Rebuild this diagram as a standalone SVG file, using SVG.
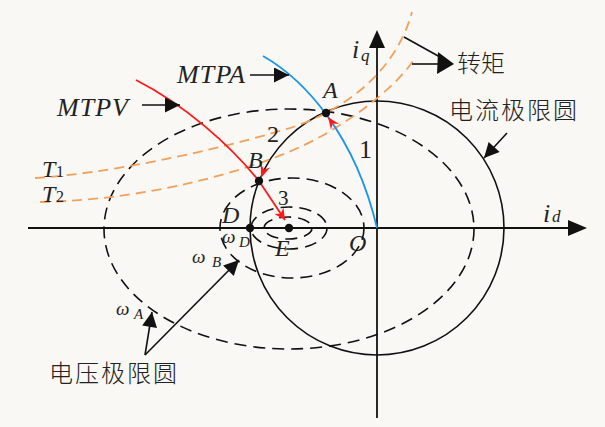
<svg xmlns="http://www.w3.org/2000/svg" width="605" height="427" viewBox="0 0 605 427">
<style>
.ax{stroke:#111;stroke-width:1.8;fill:none}
.sol{stroke:#111;stroke-width:1.6;fill:none}
.dsh{stroke:#111;stroke-width:1.6;fill:none;stroke-dasharray:12 7}
.org{stroke:#f2a05c;stroke-width:1.8;fill:none;stroke-dasharray:10 6}
.blue{stroke:#1e96e8;stroke-width:1.8;fill:none}
.red{stroke:#ff1a1a;stroke-width:1.8;fill:none}
.ptr{stroke:#111;stroke-width:1.6;fill:none}
.lab{font-family:"Liberation Serif",serif;font-style:italic;fill:#222}
.num{font-family:"Liberation Serif",serif;fill:#222}
.cjk{font-family:"Noto Sans CJK SC","Noto Sans",sans-serif;font-weight:300;fill:#222}
</style>
<defs>
<marker id="ahBig" viewBox="0 0 10 10" refX="10" refY="5" markerWidth="17" markerHeight="15" markerUnits="userSpaceOnUse" orient="auto"><path d="M0,0 L10,5 L0,10 z" fill="#111"/></marker>
<marker id="ahRed" viewBox="0 0 10 10" refX="10" refY="5" markerWidth="13" markerHeight="11" markerUnits="userSpaceOnUse" orient="auto"><path d="M0,0 L10,5 L0,10 L3,5 z" fill="#ff1a1a"/></marker>
</defs>
<rect width="605" height="427" fill="#f9f8f4"/>

<g id="axes">
<line class="ax" x1="28" y1="228" x2="572" y2="228"/>
<path d="M587,228 L568,220 L568,236 z" fill="#111"/>
<line class="ax" x1="377" y1="418" x2="377" y2="45"/>
<path d="M377,30 L369,48 L385,48 z" fill="#111"/>
<text class="lab" x="352" y="58" font-size="26">i</text>
<text class="lab" x="361" y="61" font-size="17">q</text>
<text class="lab" x="543" y="222" font-size="26">i</text>
<text class="lab" x="552" y="222" font-size="17">d</text>
<text class="lab" x="349" y="251" font-size="24">O</text>
</g>

<g id="voltage-ellipses">
<ellipse class="dsh" cx="289" cy="229" rx="185" ry="120"/>
<ellipse class="dsh" cx="292" cy="228" rx="72" ry="50"/>
<ellipse class="dsh" cx="289" cy="228" rx="38" ry="21" stroke-dasharray="10 6"/>
<ellipse class="dsh" cx="288" cy="228" rx="24" ry="11" stroke-dasharray="9 6"/>
</g>

<g id="current-circle">
<circle class="sol" cx="377" cy="228" r="127"/>
</g>

<g id="torque-curves">
<path class="org" d="M35,178 C100,174 200,155 290,128 C340,112 395,75 412,12"/>
<path class="org" d="M40,202 C150,200 250,170 300,147 C340,129 395,90 415,58"/>
<text class="lab" x="42" y="177" font-size="24">T</text>
<text class="num" x="56" y="177" font-size="16">1</text>
<text class="lab" x="42" y="202" font-size="24">T</text>
<text class="num" x="56" y="202" font-size="16">2</text>
</g>

<g id="mtpa">
<path class="blue" d="M263,56 C305,80 355,135 377,228"/>
<text class="lab" x="177" y="83" font-size="26" textLength="68" lengthAdjust="spacing">MTPA</text>
</g>

<g id="mtpv">
<path class="red" d="M136,80 C185,105 230,145 259,181 L285,220" marker-end="url(#ahRed)"/>
<text class="lab" x="57" y="116" font-size="26" textLength="71" lengthAdjust="spacing">MTPV</text>
</g>

<g id="connectors">
<line class="ptr" x1="250" y1="75" x2="289" y2="75" marker-end="url(#ahBig)"/>
<line class="ptr" x1="142" y1="105" x2="180" y2="105" marker-end="url(#ahBig)"/>
<line class="ptr" x1="507" y1="133" x2="484" y2="158" marker-end="url(#ahBig)"/>
<line class="ptr" x1="145" y1="355" x2="152" y2="312" marker-end="url(#ahBig)"/>
<line class="ptr" x1="145" y1="355" x2="239" y2="260" marker-end="url(#ahBig)"/>
<line class="ptr" x1="404" y1="37" x2="440" y2="57"/>
<line class="ptr" x1="412" y1="64" x2="440" y2="64"/>
<path d="M454,64 L438,52 L437,74 z" fill="#111"/>
<path d="M328,117 L339,123.9 L332.6,123.5 L331,129.7 z" fill="#ff1a1a"/>
<path d="M261,178 L270,167.6 L264,169.6 L260.8,164 z" fill="#ff1a1a"/>
</g>

<g id="point-A">
<circle cx="326" cy="113" r="4.2" fill="#111"/>
<text class="lab" x="323" y="98" font-size="24">A</text>
</g>
<g id="point-B">
<circle cx="259" cy="181" r="4.2" fill="#111"/>
<text class="lab" x="248" y="168" font-size="24">B</text>
</g>
<g id="point-D">
<circle cx="250" cy="228" r="4.2" fill="#111"/>
<text class="lab" x="222" y="223" font-size="24">D</text>
</g>
<g id="point-E">
<circle cx="289" cy="228" r="4.2" fill="#111"/>
<text class="lab" x="275" y="256" font-size="24">E</text>
</g>

<g id="path-labels">
<text class="num" x="359" y="158" font-size="26">1</text>
<text class="num" x="267" y="142" font-size="24">2</text>
<text class="num" x="278" y="205" font-size="21">3</text>
</g>

<g id="omega-labels">
<text class="lab" x="222" y="243" font-size="19">ω</text>
<text class="lab" x="239" y="247" font-size="15">D</text>
<text class="lab" x="192" y="263" font-size="19">ω</text>
<text class="lab" x="212" y="267" font-size="15">B</text>
<text class="lab" x="116" y="315" font-size="19">ω</text>
<text class="lab" x="134" y="319" font-size="15">A</text>
</g>

<g id="cjk-labels">
<text class="cjk" x="457" y="72" font-size="24">转矩</text>
<text class="cjk" x="449" y="119" font-size="24" textLength="128" lengthAdjust="spacing">电流极限圆</text>
<text class="cjk" x="49" y="382" font-size="24" textLength="128" lengthAdjust="spacing">电压极限圆</text>
</g>
</svg>
